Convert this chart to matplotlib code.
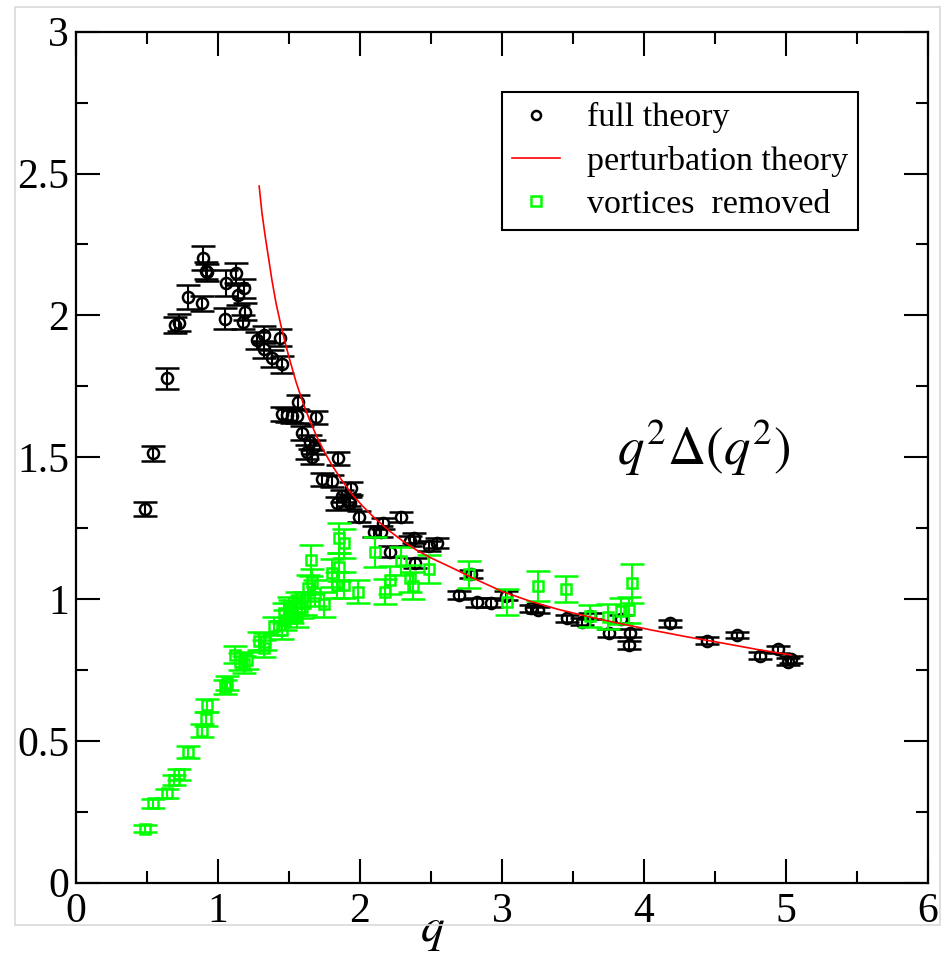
import matplotlib
matplotlib.use("Agg")
import matplotlib.pyplot as plt
from matplotlib.patches import Rectangle
from matplotlib.lines import Line2D
from matplotlib.ticker import MultipleLocator, FuncFormatter

plt.rcParams["font.family"] = ["Liberation Serif", "DejaVu Serif"]
plt.rcParams["mathtext.fontset"] = "stix"

# full theory: q, q^2 Delta(q^2), error
full_q = [0.487, 0.545, 0.640, 0.698, 0.722, 0.788, 0.886, 0.891, 0.917, 0.926,
          1.046, 1.058, 1.126, 1.138, 1.173, 1.180, 1.192, 1.274, 1.321, 1.321,
          1.380, 1.439, 1.451, 1.451, 1.486, 1.521, 1.556, 1.561, 1.591, 1.627,
          1.650, 1.662, 1.673, 1.690, 1.733, 1.803, 1.838, 1.846, 1.874, 1.921,
          1.932, 1.939, 1.991, 2.102, 2.151, 2.163, 2.209, 2.292, 2.351, 2.379,
          2.386, 2.489, 2.544, 2.696, 2.783, 2.821, 2.920, 3.025, 3.202, 3.256,
          3.455, 3.566, 3.620, 3.754, 3.840, 3.895, 3.902, 4.184, 4.441, 4.652,
          4.817, 4.941, 5.012, 5.035]
full_val = [1.316, 1.514, 1.778, 1.966, 1.974, 2.066, 2.042, 2.201, 2.157, 2.152,
            1.989, 2.115, 2.148, 2.072, 1.977, 2.095, 2.013, 1.913, 1.931, 1.880,
            1.848, 1.921, 1.828, 1.652, 1.649, 1.645, 1.645, 1.693, 1.586, 1.517,
            1.554, 1.502, 1.537, 1.640, 1.422, 1.416, 1.337, 1.496, 1.363, 1.349,
            1.339, 1.390, 1.290, 1.237, 1.237, 1.267, 1.167, 1.290, 1.204, 1.216,
            1.126, 1.188, 1.198, 1.014, 1.088, 0.988, 0.987, 1.012, 0.967, 0.961,
            0.932, 0.920, 0.940, 0.881, 0.930, 0.838, 0.881, 0.914, 0.853, 0.873,
            0.800, 0.823, 0.779, 0.787]
full_err = [0.025, 0.027, 0.038, 0.028, 0.030, 0.042, 0.025, 0.042, 0.030, 0.030,
            0.036, 0.045, 0.035, 0.035, 0.025, 0.035, 0.030, 0.030, 0.030, 0.030,
            0.030, 0.030, 0.030, 0.025, 0.025, 0.025, 0.025, 0.025, 0.025, 0.025,
            0.025, 0.025, 0.025, 0.022, 0.022, 0.022, 0.022, 0.022, 0.022, 0.022,
            0.022, 0.022, 0.020, 0.020, 0.020, 0.020, 0.020, 0.018, 0.018, 0.018,
            0.018, 0.018, 0.018, 0.015, 0.015, 0.015, 0.015, 0.015, 0.012, 0.012,
            0.012, 0.012, 0.012, 0.015, 0.015, 0.015, 0.015, 0.012, 0.012, 0.012,
            0.012, 0.012, 0.012, 0.012]

# vortices removed: q, q^2 Delta(q^2), error
vr_q = [0.487, 0.545, 0.640, 0.691, 0.722, 0.788, 0.886, 0.915, 0.926, 1.051,
        1.063, 1.121, 1.157, 1.185, 1.204, 1.286, 1.321, 1.333, 1.391, 1.451,
        1.462, 1.474, 1.497, 1.509, 1.521, 1.556, 1.556, 1.591, 1.615, 1.634,
        1.657, 1.662, 1.685, 1.744, 1.803, 1.838, 1.850, 1.855, 1.885, 1.885,
        1.984, 2.109, 2.174, 2.209, 2.290, 2.351, 2.372, 2.485, 2.767, 3.032,
        3.256, 3.453, 3.618, 3.750, 3.836, 3.895, 3.919]
vr_val = [0.190, 0.280, 0.315, 0.362, 0.382, 0.460, 0.536, 0.577, 0.626, 0.691,
          0.703, 0.803, 0.779, 0.770, 0.785, 0.852, 0.826, 0.849, 0.905, 0.890,
          0.950, 0.925, 0.973, 0.961, 0.950, 0.938, 0.985, 0.973, 0.985, 1.038,
          1.137, 1.061, 1.022, 0.981, 1.091, 1.049, 1.114, 1.216, 1.049, 1.196,
          1.026, 1.165, 1.026, 1.067, 1.134, 1.073, 1.047, 1.105, 1.087, 0.990,
          1.046, 1.034, 0.940, 0.938, 0.958, 0.961, 1.055]
vr_err = [0.012, 0.016, 0.016, 0.018, 0.020, 0.022, 0.022, 0.023, 0.023, 0.025,
          0.025, 0.030, 0.030, 0.030, 0.030, 0.030, 0.030, 0.030, 0.032, 0.032,
          0.035, 0.035, 0.035, 0.035, 0.035, 0.035, 0.040, 0.040, 0.040, 0.045,
          0.055, 0.045, 0.045, 0.045, 0.050, 0.045, 0.050, 0.053, 0.045, 0.050,
          0.040, 0.052, 0.045, 0.050, 0.050, 0.048, 0.048, 0.050, 0.048, 0.046,
          0.053, 0.046, 0.038, 0.045, 0.045, 0.045, 0.070]

# perturbation theory curve
pt_q = [1.290, 1.310, 1.333, 1.360, 1.380, 1.410, 1.440, 1.480, 1.510, 1.550,
        1.600, 1.650, 1.700, 1.750, 1.800, 1.870, 1.950, 2.020, 2.100, 2.200,
        2.300, 2.400, 2.500, 2.640, 2.800, 3.000, 3.200, 3.400, 3.600, 3.800,
        4.050, 4.300, 4.550, 4.800, 5.035]
pt_val = [2.456, 2.360, 2.277, 2.190, 2.124, 2.040, 1.972, 1.890, 1.835, 1.765,
          1.690, 1.625, 1.568, 1.518, 1.474, 1.420, 1.366, 1.327, 1.287, 1.243,
          1.205, 1.172, 1.145, 1.112, 1.073, 1.027, 0.992, 0.963, 0.939, 0.917,
          0.891, 0.867, 0.845, 0.822, 0.803]

fig = plt.figure(figsize=(9.44, 9.56), dpi=100)
ax = fig.add_axes([0.0805, 0.0767, 0.9025, 0.8901])

# thin grey frame around the graph
fig.patches.append(Rectangle((15 / 944, 1 - 925 / 956), (940 - 15) / 944, (925 - 7) / 956,
                             transform=fig.transFigure, fill=False,
                             edgecolor="#d9d9d9", linewidth=1.2, zorder=0))

ax.errorbar(full_q, full_val, yerr=full_err, fmt="o", color="black",
            markerfacecolor="none", markeredgecolor="black", markersize=8,
            markeredgewidth=1.8, elinewidth=1.5, capsize=8.5, capthick=1.5,
            zorder=3)
ax.errorbar(vr_q, vr_val, yerr=vr_err, fmt="s", color="#00ff00",
            markerfacecolor="none", markeredgecolor="#00ff00", markersize=7.5,
            markeredgewidth=1.8, elinewidth=1.5, capsize=8.5, capthick=1.5,
            zorder=4)
ax.plot(pt_q, pt_val, color="red", linewidth=1.2, zorder=5)

ax.set_xlim(0, 6)
ax.set_ylim(0, 3)
ax.xaxis.set_major_locator(MultipleLocator(1))
ax.xaxis.set_minor_locator(MultipleLocator(0.5))
ax.yaxis.set_major_locator(MultipleLocator(0.5))
ax.yaxis.set_minor_locator(MultipleLocator(0.25))
fmt = FuncFormatter(lambda v, p: "%g" % v)
ax.xaxis.set_major_formatter(fmt)
ax.yaxis.set_major_formatter(fmt)
ax.tick_params(which="both", direction="in", top=True, right=True, width=1.5)
ax.tick_params(which="major", length=17, labelsize=30)
ax.tick_params(axis="x", which="major", pad=7)
ax.tick_params(axis="y", which="major", pad=5)
ax.tick_params(which="minor", length=8.5)
for s in ax.spines.values():
    s.set_linewidth(1.6)

# axis label sits left of centre, under the frame
ax.text(2.51, -0.058, r"$q$", fontsize=34, ha="center", va="center",
        transform=ax.get_xaxis_transform())
ax.text(0.737, 0.511, r"$q^2\Delta(q^2)$", transform=ax.transAxes,
        fontsize=38, ha="center", va="center")

leg_handles = [
    Line2D([], [], linestyle="none", marker="o", markersize=6.5, markerfacecolor="none",
           markeredgecolor="black", markeredgewidth=1.8),
    Line2D([], [], color="red", linewidth=1.2),
    Line2D([], [], linestyle="none", marker="s", markersize=6.5, markerfacecolor="none",
           markeredgecolor="#00ff00", markeredgewidth=1.8),
]
leg = ax.legend(leg_handles, ["full theory", "perturbation theory", "vortices  removed"],
                loc="upper left", bbox_to_anchor=(0.50, 0.929), fontsize=24.5,
                frameon=True, fancybox=False, framealpha=1, edgecolor="black",
                handlelength=1.4, handletextpad=0.8, borderpad=0.3,
                labelspacing=0.36, borderaxespad=0)
leg.get_frame().set_linewidth(1.5)

fig.savefig("out.png", dpi=100)
